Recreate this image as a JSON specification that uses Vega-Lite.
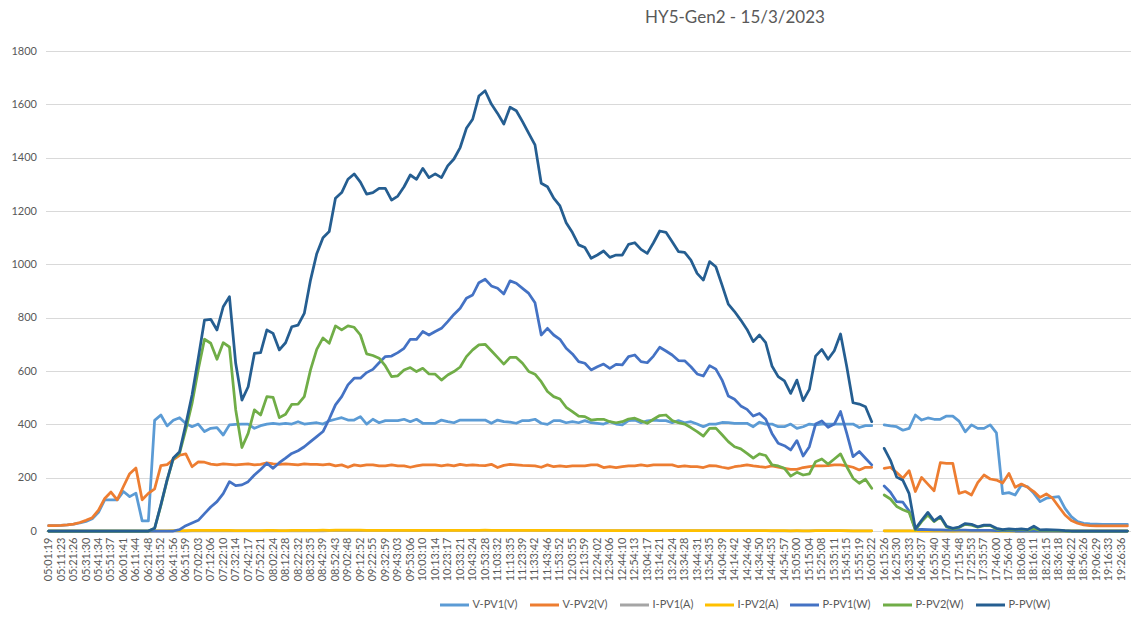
{
  "$schema": "https://vega.github.io/schema/vega-lite/v6.json",
  "autosize": {"type": "none"},
  "width": 1085,
  "height": 480,
  "padding": {"left": 45.5, "top": 51, "right": 2.5, "bottom": 87},
  "background": "white",
  "title": {
    "text": "HY5-Gen2 - 15/3/2023",
    "font": "Lato",
    "fontSize": 17,
    "fontWeight": "normal",
    "color": "#595959",
    "anchor": "middle",
    "dx": 147,
    "offset": 18
  },
  "data": {
    "values": [
      {"t":"05:01:19","v1":20,"v2":20,"i1":0,"i2":0,"p1":0,"p2":0,"p":0},
      {"t":"05:06:21","v1":20,"v2":20,"i1":0,"i2":0,"p1":0,"p2":0,"p":0},
      {"t":"05:11:23","v1":21,"v2":21,"i1":0,"i2":0,"p1":0,"p2":0,"p":0},
      {"t":"05:16:24","v1":23,"v2":23,"i1":0,"i2":0,"p1":0,"p2":0,"p":0},
      {"t":"05:21:26","v1":26,"v2":26,"i1":0,"i2":0,"p1":0,"p2":0,"p":0},
      {"t":"05:26:28","v1":30,"v2":32,"i1":0,"i2":0,"p1":0,"p2":0,"p":0},
      {"t":"05:31:30","v1":36,"v2":40,"i1":0,"i2":0,"p1":0,"p2":0,"p":0},
      {"t":"05:36:32","v1":46,"v2":50,"i1":0,"i2":0,"p1":0,"p2":0,"p":0},
      {"t":"05:41:34","v1":70,"v2":78,"i1":0,"i2":0,"p1":0,"p2":0,"p":0},
      {"t":"05:46:35","v1":117,"v2":122,"i1":0,"i2":0,"p1":0,"p2":0,"p":0},
      {"t":"05:51:37","v1":117,"v2":146,"i1":0,"i2":0,"p1":0,"p2":0,"p":0},
      {"t":"05:56:39","v1":117,"v2":117,"i1":0,"i2":0,"p1":0,"p2":0,"p":0},
      {"t":"06:01:41","v1":148,"v2":167,"i1":0,"i2":0,"p1":0,"p2":0,"p":0},
      {"t":"06:06:42","v1":129,"v2":215,"i1":0,"i2":0,"p1":0,"p2":0,"p":0},
      {"t":"06:11:44","v1":142,"v2":236,"i1":0,"i2":0,"p1":0,"p2":0,"p":0},
      {"t":"06:16:46","v1":38,"v2":117,"i1":0,"i2":0,"p1":0,"p2":0,"p":0},
      {"t":"06:21:48","v1":38,"v2":141,"i1":0,"i2":0,"p1":0,"p2":0,"p":0},
      {"t":"06:26:50","v1":415,"v2":158,"i1":0,"i2":0.1,"p1":0,"p2":10,"p":10},
      {"t":"06:31:52","v1":435,"v2":245,"i1":0,"i2":0.4,"p1":0,"p2":95,"p":98},
      {"t":"06:36:54","v1":394,"v2":249,"i1":0,"i2":0.8,"p1":0,"p2":190,"p":192},
      {"t":"06:41:56","v1":415,"v2":268,"i1":0,"i2":1.0,"p1":0,"p2":272,"p":274},
      {"t":"06:46:57","v1":425,"v2":284,"i1":0,"i2":1.0,"p1":5,"p2":292,"p":297},
      {"t":"06:51:59","v1":403,"v2":289,"i1":0,"i2":1.3,"p1":20,"p2":380,"p":400},
      {"t":"06:57:01","v1":391,"v2":241,"i1":0.1,"i2":2.0,"p1":30,"p2":478,"p":510},
      {"t":"07:02:03","v1":401,"v2":259,"i1":0.1,"i2":2.3,"p1":40,"p2":606,"p":648},
      {"t":"07:07:04","v1":373,"v2":258,"i1":0.2,"i2":2.8,"p1":65,"p2":719,"p":791},
      {"t":"07:12:06","v1":385,"v2":251,"i1":0.2,"i2":2.8,"p1":90,"p2":704,"p":794},
      {"t":"07:17:08","v1":388,"v2":248,"i1":0.3,"i2":2.6,"p1":110,"p2":644,"p":754},
      {"t":"07:22:10","v1":360,"v2":252,"i1":0.4,"i2":2.8,"p1":140,"p2":706,"p":841},
      {"t":"07:27:12","v1":398,"v2":250,"i1":0.5,"i2":2.8,"p1":185,"p2":690,"p":879},
      {"t":"07:32:14","v1":400,"v2":248,"i1":0.4,"i2":1.8,"p1":170,"p2":455,"p":629},
      {"t":"07:37:15","v1":401,"v2":250,"i1":0.4,"i2":1.3,"p1":173,"p2":313,"p":491},
      {"t":"07:42:17","v1":401,"v2":252,"i1":0.5,"i2":1.5,"p1":185,"p2":366,"p":541},
      {"t":"07:47:19","v1":385,"v2":248,"i1":0.5,"i2":1.8,"p1":210,"p2":454,"p":666},
      {"t":"07:52:21","v1":395,"v2":250,"i1":0.6,"i2":1.7,"p1":231,"p2":435,"p":669},
      {"t":"07:57:22","v1":401,"v2":256,"i1":0.6,"i2":2.0,"p1":254,"p2":504,"p":754},
      {"t":"08:02:24","v1":404,"v2":252,"i1":0.6,"i2":2.0,"p1":235,"p2":501,"p":741},
      {"t":"08:07:26","v1":401,"v2":250,"i1":0.6,"i2":1.7,"p1":256,"p2":425,"p":679},
      {"t":"08:12:28","v1":404,"v2":252,"i1":0.7,"i2":1.7,"p1":273,"p2":438,"p":706},
      {"t":"08:17:30","v1":401,"v2":250,"i1":0.7,"i2":1.9,"p1":291,"p2":475,"p":766},
      {"t":"08:22:32","v1":410,"v2":248,"i1":0.7,"i2":1.9,"p1":301,"p2":476,"p":772},
      {"t":"08:27:33","v1":401,"v2":252,"i1":0.8,"i2":2.0,"p1":316,"p2":504,"p":816},
      {"t":"08:32:35","v1":404,"v2":250,"i1":0.8,"i2":2.4,"p1":335,"p2":604,"p":941},
      {"t":"08:37:37","v1":406,"v2":250,"i1":0.9,"i2":2.7,"p1":354,"p2":681,"p":1040},
      {"t":"08:42:39","v1":401,"v2":248,"i1":0.9,"i2":2.9,"p1":373,"p2":724,"p":1100},
      {"t":"08:47:41","v1":413,"v2":251,"i1":1.0,"i2":2.8,"p1":420,"p2":704,"p":1123},
      {"t":"08:52:43","v1":419,"v2":244,"i1":1.1,"i2":3.2,"p1":473,"p2":769,"p":1248},
      {"t":"08:57:45","v1":425,"v2":248,"i1":1.2,"i2":3.0,"p1":504,"p2":754,"p":1269},
      {"t":"09:02:48","v1":416,"v2":239,"i1":1.3,"i2":3.2,"p1":548,"p2":769,"p":1319},
      {"t":"09:07:50","v1":416,"v2":248,"i1":1.4,"i2":3.1,"p1":573,"p2":764,"p":1339},
      {"t":"09:12:52","v1":429,"v2":244,"i1":1.3,"i2":3.0,"p1":573,"p2":735,"p":1308},
      {"t":"09:17:53","v1":401,"v2":248,"i1":1.5,"i2":2.7,"p1":594,"p2":664,"p":1263},
      {"t":"09:22:55","v1":419,"v2":248,"i1":1.4,"i2":2.7,"p1":606,"p2":658,"p":1269},
      {"t":"09:27:57","v1":406,"v2":244,"i1":1.6,"i2":2.7,"p1":631,"p2":648,"p":1285},
      {"t":"09:32:59","v1":414,"v2":244,"i1":1.6,"i2":2.5,"p1":654,"p2":619,"p":1285},
      {"t":"09:38:01","v1":414,"v2":248,"i1":1.6,"i2":2.3,"p1":656,"p2":579,"p":1241},
      {"t":"09:43:03","v1":414,"v2":244,"i1":1.6,"i2":2.4,"p1":669,"p2":582,"p":1256},
      {"t":"09:48:04","v1":419,"v2":244,"i1":1.6,"i2":2.5,"p1":685,"p2":604,"p":1291},
      {"t":"09:53:06","v1":410,"v2":239,"i1":1.8,"i2":2.6,"p1":719,"p2":613,"p":1335},
      {"t":"09:58:08","v1":419,"v2":244,"i1":1.7,"i2":2.5,"p1":719,"p2":598,"p":1319},
      {"t":"10:03:10","v1":404,"v2":248,"i1":1.9,"i2":2.5,"p1":748,"p2":610,"p":1360},
      {"t":"10:08:12","v1":404,"v2":248,"i1":1.8,"i2":2.4,"p1":735,"p2":589,"p":1325},
      {"t":"10:13:14","v1":404,"v2":248,"i1":1.9,"i2":2.4,"p1":748,"p2":588,"p":1339},
      {"t":"10:18:15","v1":416,"v2":244,"i1":1.8,"i2":2.3,"p1":760,"p2":566,"p":1325},
      {"t":"10:23:17","v1":410,"v2":248,"i1":1.9,"i2":2.4,"p1":785,"p2":585,"p":1369},
      {"t":"10:28:19","v1":406,"v2":244,"i1":2.0,"i2":2.5,"p1":812,"p2":598,"p":1395},
      {"t":"10:33:21","v1":416,"v2":250,"i1":2.0,"i2":2.5,"p1":835,"p2":615,"p":1438},
      {"t":"10:38:22","v1":416,"v2":246,"i1":2.1,"i2":2.7,"p1":873,"p2":654,"p":1510},
      {"t":"10:43:24","v1":416,"v2":248,"i1":2.1,"i2":2.7,"p1":885,"p2":679,"p":1544},
      {"t":"10:48:26","v1":416,"v2":246,"i1":2.2,"i2":2.8,"p1":931,"p2":698,"p":1631},
      {"t":"10:53:28","v1":416,"v2":245,"i1":2.3,"i2":2.9,"p1":944,"p2":700,"p":1651},
      {"t":"10:58:30","v1":404,"v2":250,"i1":2.3,"i2":2.7,"p1":919,"p2":676,"p":1601},
      {"t":"11:03:32","v1":416,"v2":238,"i1":2.2,"i2":2.7,"p1":910,"p2":651,"p":1566},
      {"t":"11:08:33","v1":410,"v2":246,"i1":2.2,"i2":2.5,"p1":889,"p2":626,"p":1526},
      {"t":"11:13:35","v1":408,"v2":250,"i1":2.3,"i2":2.6,"p1":938,"p2":651,"p":1589},
      {"t":"11:18:37","v1":404,"v2":248,"i1":2.3,"i2":2.6,"p1":929,"p2":651,"p":1576},
      {"t":"11:23:39","v1":414,"v2":246,"i1":2.2,"i2":2.6,"p1":910,"p2":629,"p":1535},
      {"t":"11:28:40","v1":414,"v2":245,"i1":2.2,"i2":2.4,"p1":891,"p2":598,"p":1491},
      {"t":"11:33:42","v1":419,"v2":244,"i1":2.0,"i2":2.4,"p1":856,"p2":588,"p":1448},
      {"t":"11:38:44","v1":404,"v2":239,"i1":1.8,"i2":2.3,"p1":735,"p2":560,"p":1304},
      {"t":"11:43:46","v1":400,"v2":248,"i1":1.9,"i2":2.1,"p1":760,"p2":523,"p":1291},
      {"t":"11:48:49","v1":414,"v2":241,"i1":1.8,"i2":2.1,"p1":735,"p2":504,"p":1248},
      {"t":"11:53:52","v1":414,"v2":244,"i1":1.7,"i2":2.0,"p1":719,"p2":495,"p":1219},
      {"t":"11:58:53","v1":406,"v2":241,"i1":1.7,"i2":1.9,"p1":685,"p2":464,"p":1156},
      {"t":"12:03:55","v1":410,"v2":244,"i1":1.6,"i2":1.8,"p1":664,"p2":448,"p":1119},
      {"t":"12:08:57","v1":406,"v2":244,"i1":1.6,"i2":1.8,"p1":635,"p2":431,"p":1073},
      {"t":"12:13:59","v1":414,"v2":244,"i1":1.5,"i2":1.8,"p1":629,"p2":429,"p":1063},
      {"t":"12:19:00","v1":406,"v2":248,"i1":1.5,"i2":1.7,"p1":604,"p2":416,"p":1023},
      {"t":"12:24:02","v1":404,"v2":248,"i1":1.5,"i2":1.7,"p1":616,"p2":419,"p":1035},
      {"t":"12:29:04","v1":401,"v2":238,"i1":1.6,"i2":1.8,"p1":626,"p2":419,"p":1050},
      {"t":"12:34:06","v1":410,"v2":241,"i1":1.5,"i2":1.7,"p1":610,"p2":410,"p":1026},
      {"t":"12:39:08","v1":401,"v2":238,"i1":1.6,"i2":1.7,"p1":625,"p2":406,"p":1035},
      {"t":"12:44:10","v1":398,"v2":241,"i1":1.6,"i2":1.7,"p1":623,"p2":410,"p":1035},
      {"t":"12:49:11","v1":414,"v2":244,"i1":1.6,"i2":1.7,"p1":654,"p2":420,"p":1075},
      {"t":"12:54:13","v1":416,"v2":244,"i1":1.6,"i2":1.7,"p1":660,"p2":423,"p":1081},
      {"t":"12:59:15","v1":406,"v2":248,"i1":1.6,"i2":1.7,"p1":635,"p2":413,"p":1056},
      {"t":"13:04:17","v1":413,"v2":244,"i1":1.5,"i2":1.7,"p1":631,"p2":404,"p":1041},
      {"t":"13:09:19","v1":416,"v2":248,"i1":1.6,"i2":1.7,"p1":656,"p2":419,"p":1081},
      {"t":"13:14:21","v1":414,"v2":248,"i1":1.7,"i2":1.7,"p1":689,"p2":433,"p":1125},
      {"t":"13:19:22","v1":414,"v2":248,"i1":1.6,"i2":1.8,"p1":675,"p2":435,"p":1120},
      {"t":"13:24:24","v1":406,"v2":248,"i1":1.6,"i2":1.7,"p1":660,"p2":414,"p":1085},
      {"t":"13:29:26","v1":414,"v2":241,"i1":1.5,"i2":1.7,"p1":639,"p2":406,"p":1048},
      {"t":"13:34:28","v1":406,"v2":244,"i1":1.6,"i2":1.6,"p1":638,"p2":401,"p":1045},
      {"t":"13:39:29","v1":410,"v2":241,"i1":1.5,"i2":1.6,"p1":616,"p2":388,"p":1016},
      {"t":"13:44:31","v1":401,"v2":241,"i1":1.5,"i2":1.5,"p1":589,"p2":373,"p":966},
      {"t":"13:49:33","v1":391,"v2":238,"i1":1.5,"i2":1.5,"p1":581,"p2":356,"p":941},
      {"t":"13:54:35","v1":401,"v2":245,"i1":1.5,"i2":1.6,"p1":620,"p2":385,"p":1010},
      {"t":"13:59:37","v1":401,"v2":244,"i1":1.5,"i2":1.6,"p1":607,"p2":386,"p":991},
      {"t":"14:04:39","v1":407,"v2":239,"i1":1.4,"i2":1.5,"p1":566,"p2":361,"p":922},
      {"t":"14:09:40","v1":406,"v2":235,"i1":1.2,"i2":1.4,"p1":506,"p2":335,"p":851},
      {"t":"14:14:42","v1":404,"v2":241,"i1":1.2,"i2":1.3,"p1":494,"p2":316,"p":823},
      {"t":"14:19:44","v1":404,"v2":244,"i1":1.2,"i2":1.3,"p1":469,"p2":308,"p":791},
      {"t":"14:24:46","v1":404,"v2":248,"i1":1.1,"i2":1.2,"p1":456,"p2":291,"p":756},
      {"t":"14:29:48","v1":391,"v2":244,"i1":1.1,"i2":1.1,"p1":431,"p2":273,"p":710},
      {"t":"14:34:50","v1":408,"v2":241,"i1":1.1,"i2":1.2,"p1":441,"p2":289,"p":735},
      {"t":"14:39:51","v1":401,"v2":239,"i1":1.0,"i2":1.2,"p1":419,"p2":283,"p":706},
      {"t":"14:44:53","v1":401,"v2":244,"i1":0.9,"i2":1.0,"p1":366,"p2":248,"p":619},
      {"t":"14:49:55","v1":391,"v2":239,"i1":0.8,"i2":1.0,"p1":329,"p2":244,"p":579},
      {"t":"14:54:57","v1":391,"v2":235,"i1":0.8,"i2":1.0,"p1":320,"p2":235,"p":563},
      {"t":"14:59:58","v1":401,"v2":231,"i1":0.8,"i2":0.9,"p1":304,"p2":206,"p":516},
      {"t":"15:05:00","v1":385,"v2":231,"i1":0.9,"i2":1.0,"p1":339,"p2":220,"p":566},
      {"t":"15:10:02","v1":391,"v2":238,"i1":0.7,"i2":0.9,"p1":281,"p2":210,"p":489},
      {"t":"15:15:04","v1":401,"v2":241,"i1":0.8,"i2":0.9,"p1":316,"p2":214,"p":531},
      {"t":"15:20:06","v1":398,"v2":244,"i1":1.0,"i2":1.1,"p1":401,"p2":260,"p":656},
      {"t":"15:25:08","v1":401,"v2":244,"i1":1.0,"i2":1.1,"p1":413,"p2":270,"p":681},
      {"t":"15:30:09","v1":401,"v2":245,"i1":1.0,"i2":1.0,"p1":389,"p2":251,"p":644},
      {"t":"15:35:11","v1":401,"v2":248,"i1":1.0,"i2":1.1,"p1":401,"p2":270,"p":676},
      {"t":"15:40:13","v1":401,"v2":248,"i1":1.1,"i2":1.2,"p1":448,"p2":289,"p":739},
      {"t":"15:45:15","v1":401,"v2":244,"i1":0.9,"i2":1.0,"p1":366,"p2":241,"p":616},
      {"t":"15:50:17","v1":401,"v2":239,"i1":0.7,"i2":0.8,"p1":279,"p2":198,"p":481},
      {"t":"15:55:19","v1":388,"v2":229,"i1":0.8,"i2":0.8,"p1":298,"p2":179,"p":476},
      {"t":"16:00:20","v1":395,"v2":239,"i1":0.7,"i2":0.8,"p1":273,"p2":194,"p":466},
      {"t":"16:05:22","v1":395,"v2":239,"i1":0.6,"i2":0.7,"p1":248,"p2":160,"p":410},
      {"t":"16:10:24","v1":null,"v2":null,"i1":null,"i2":null,"p1":null,"p2":null,"p":null},
      {"t":"16:15:26","v1":398,"v2":235,"i1":0.4,"i2":0.6,"p1":169,"p2":135,"p":310},
      {"t":"16:20:28","v1":394,"v2":239,"i1":0.4,"i2":0.5,"p1":145,"p2":120,"p":265},
      {"t":"16:25:30","v1":391,"v2":219,"i1":0.3,"i2":0.4,"p1":110,"p2":92,"p":202},
      {"t":"16:30:31","v1":378,"v2":198,"i1":0.3,"i2":0.4,"p1":108,"p2":80,"p":190},
      {"t":"16:35:33","v1":385,"v2":226,"i1":0.2,"i2":0.3,"p1":75,"p2":70,"p":140},
      {"t":"16:40:35","v1":435,"v2":148,"i1":0,"i2":0,"p1":5,"p2":4,"p":8},
      {"t":"16:45:37","v1":416,"v2":201,"i1":0,"i2":0.2,"p1":6,"p2":35,"p":40},
      {"t":"16:50:38","v1":424,"v2":176,"i1":0,"i2":0.3,"p1":5,"p2":60,"p":70},
      {"t":"16:55:40","v1":419,"v2":151,"i1":0,"i2":0.2,"p1":4,"p2":35,"p":38},
      {"t":"17:00:42","v1":419,"v2":256,"i1":0,"i2":0.2,"p1":4,"p2":52,"p":55},
      {"t":"17:05:44","v1":431,"v2":254,"i1":0,"i2":0.1,"p1":3,"p2":15,"p":18},
      {"t":"17:10:46","v1":431,"v2":254,"i1":0,"i2":0,"p1":3,"p2":8,"p":10},
      {"t":"17:15:48","v1":412,"v2":141,"i1":0,"i2":0.1,"p1":3,"p2":13,"p":15},
      {"t":"17:20:50","v1":372,"v2":148,"i1":0,"i2":0.2,"p1":3,"p2":25,"p":28},
      {"t":"17:25:53","v1":398,"v2":135,"i1":0,"i2":0.2,"p1":2,"p2":22,"p":25},
      {"t":"17:30:55","v1":385,"v2":181,"i1":0,"i2":0.1,"p1":2,"p2":14,"p":16},
      {"t":"17:35:57","v1":385,"v2":210,"i1":0,"i2":0.1,"p1":2,"p2":20,"p":22},
      {"t":"17:40:58","v1":398,"v2":195,"i1":0,"i2":0.1,"p1":2,"p2":20,"p":22},
      {"t":"17:46:00","v1":368,"v2":191,"i1":0,"i2":0,"p1":1,"p2":7,"p":10},
      {"t":"17:51:02","v1":140,"v2":180,"i1":0,"i2":0,"p1":1,"p2":3,"p":5},
      {"t":"17:56:04","v1":144,"v2":216,"i1":0,"i2":0,"p1":1,"p2":5,"p":8},
      {"t":"18:01:06","v1":135,"v2":164,"i1":0,"i2":0,"p1":0,"p2":4,"p":6},
      {"t":"18:06:08","v1":172,"v2":176,"i1":0,"i2":0,"p1":0,"p2":6,"p":8},
      {"t":"18:11:09","v1":166,"v2":164,"i1":0,"i2":0,"p1":0,"p2":3,"p":5},
      {"t":"18:16:11","v1":141,"v2":148,"i1":0,"i2":0,"p1":0,"p2":10,"p":18},
      {"t":"18:21:13","v1":110,"v2":126,"i1":0,"i2":0,"p1":0,"p2":2,"p":4},
      {"t":"18:26:15","v1":123,"v2":139,"i1":0,"i2":0,"p1":0,"p2":2,"p":5},
      {"t":"18:31:16","v1":126,"v2":123,"i1":0,"i2":0,"p1":0,"p2":2,"p":4},
      {"t":"18:36:18","v1":129,"v2":91,"i1":0,"i2":0,"p1":0,"p2":1,"p":3},
      {"t":"18:41:20","v1":85,"v2":60,"i1":0,"i2":0,"p1":0,"p2":0,"p":1},
      {"t":"18:46:22","v1":54,"v2":39,"i1":0,"i2":0,"p1":0,"p2":0,"p":0},
      {"t":"18:51:24","v1":35,"v2":29,"i1":0,"i2":0,"p1":0,"p2":0,"p":0},
      {"t":"18:56:26","v1":29,"v2":23,"i1":0,"i2":0,"p1":0,"p2":0,"p":0},
      {"t":"19:01:27","v1":27,"v2":20,"i1":0,"i2":0,"p1":0,"p2":0,"p":0},
      {"t":"19:06:29","v1":26,"v2":19,"i1":0,"i2":0,"p1":0,"p2":0,"p":0},
      {"t":"19:11:31","v1":25,"v2":19,"i1":0,"i2":0,"p1":0,"p2":0,"p":0},
      {"t":"19:16:33","v1":25,"v2":19,"i1":0,"i2":0,"p1":0,"p2":0,"p":0},
      {"t":"19:21:34","v1":25,"v2":19,"i1":0,"i2":0,"p1":0,"p2":0,"p":0},
      {"t":"19:26:36","v1":25,"v2":19,"i1":0,"i2":0,"p1":0,"p2":0,"p":0},
      {"t":"19:31:38","v1":25,"v2":19,"i1":0,"i2":0,"p1":0,"p2":0,"p":0}
    ]
  },
  "transform": [
    {"fold": ["v1", "v2", "i1", "i2", "p1", "p2", "p"], "as": ["series", "value"]}
  ],
  "mark": {
    "type": "line",
    "strokeWidth": 2.75,
    "strokeJoin": "round",
    "strokeCap": "round",
    "invalid": "break-paths-show-domains"
  },
  "encoding": {
    "x": {
      "field": "t",
      "type": "ordinal",
      "sort": null,
      "scale": {"type": "point", "padding": 0.5},
      "axis": {
        "title": null,
        "labelAngle": -90,
        "labelFont": "Lato",
        "labelFontSize": 11,
        "labelColor": "#595959",
        "labelPadding": 6,
        "ticks": false,
        "domainColor": "#d9d9d9",
        "labelOverlap": false,
        "values": ["05:01:19","05:11:23","05:21:26","05:31:30","05:41:34","05:51:37","06:01:41","06:11:44","06:21:48","06:31:52","06:41:56","06:51:59","07:02:03","07:12:06","07:22:10","07:32:14","07:42:17","07:52:21","08:02:24","08:12:28","08:22:32","08:32:35","08:42:39","08:52:43","09:02:48","09:12:52","09:22:55","09:32:59","09:43:03","09:53:06","10:03:10","10:13:14","10:23:17","10:33:21","10:43:24","10:53:28","11:03:32","11:13:35","11:23:39","11:33:42","11:43:46","11:53:52","12:03:55","12:13:59","12:24:02","12:34:06","12:44:10","12:54:13","13:04:17","13:14:21","13:24:24","13:34:28","13:44:31","13:54:35","14:04:39","14:14:42","14:24:46","14:34:50","14:44:53","14:54:57","15:05:00","15:15:04","15:25:08","15:35:11","15:45:15","15:55:19","16:05:22","16:15:26","16:25:30","16:35:33","16:45:37","16:55:40","17:05:44","17:15:48","17:25:53","17:35:57","17:46:00","17:56:04","18:06:08","18:16:11","18:26:15","18:36:18","18:46:22","18:56:26","19:06:29","19:16:33","19:26:36"]
      }
    },
    "y": {
      "field": "value",
      "type": "quantitative",
      "scale": {"domain": [0, 1800], "nice": false},
      "axis": {
        "title": null,
        "format": "d",
        "values": [0, 200, 400, 600, 800, 1000, 1200, 1400, 1600, 1800],
        "labelFont": "Lato",
        "labelFontSize": 11,
        "labelColor": "#595959",
        "labelPadding": 9,
        "ticks": false,
        "domain": false,
        "grid": true,
        "gridColor": "#d9d9d9",
        "gridWidth": 1
      }
    },
    "color": {
      "field": "series",
      "type": "nominal",
      "scale": {
        "domain": ["v1", "v2", "i1", "i2", "p1", "p2", "p"],
        "range": ["#5B9BD5", "#ED7D31", "#A5A5A5", "#FFC000", "#4472C4", "#70AD47", "#255E91"]
      },
      "legend": {
        "title": null,
        "orient": "none",
        "direction": "horizontal",
        "legendX": 393,
        "legendY": 538,
        "symbolType": "stroke",
        "symbolSize": 840,
        "symbolStrokeWidth": 3,
        "labelFont": "Lato",
        "labelFontSize": 11,
        "labelColor": "#595959",
        "labelOffset": 2,
        "columnPadding": 5,
        "labelExpr": "{'v1':'V-PV1(V)','v2':'V-PV2(V)','i1':'I-PV1(A)','i2':'I-PV2(A)','p1':'P-PV1(W)','p2':'P-PV2(W)','p':'P-PV(W)'}[datum.label]"
      }
    }
  },
  "config": {
    "view": {"stroke": null}
  }
}
